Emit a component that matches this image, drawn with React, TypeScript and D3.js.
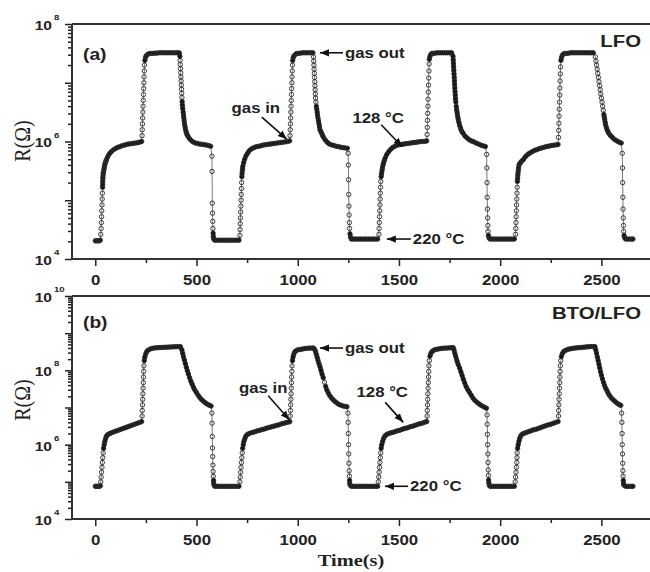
import React, { useEffect, useRef } from "react";
import * as d3 from "d3";

type Pt = [number, number];

// [time (s), log10 R (ohm)], panel (a) LFO
const lfoCycle1: Pt[] = [
  [0, 4.31], [5, 4.31], [10, 4.31], [15, 4.31], [20, 4.31], [25, 4.32],
  [27, 4.42], [29, 4.52], [30, 4.62], [31, 4.72], [32, 4.82], [33, 4.92], [34, 5.02], [35, 5.12], [36, 5.22],
  [36.5, 5.27], [37, 5.32], [37.5, 5.37], [38, 5.41], [39, 5.45],
  [40, 5.47], [41.5, 5.5], [43, 5.53], [44.5, 5.56], [46, 5.59], [48, 5.62], [50, 5.64], [52.5, 5.665], [55, 5.69], [60, 5.73],
  [66, 5.77], [72, 5.8], [80, 5.83], [90, 5.86], [100, 5.88],
  [110, 5.9], [120, 5.91], [130, 5.925], [140, 5.935], [150, 5.945], [160, 5.955], [170, 5.96], [180, 5.965], [190, 5.97], [200, 5.975],
  [210, 5.98], [220, 5.99], [229, 6.0],
  [231, 6.1], [232, 6.2], [233, 6.3], [234, 6.4], [235, 6.5], [236, 6.6], [237, 6.7], [238, 6.8], [239, 6.9], [240, 7.0], [241, 7.1],
  [242, 7.2], [243, 7.3], [245, 7.38],
  [248, 7.43], [252, 7.46], [258, 7.48], [265, 7.495], [275, 7.5], [285, 7.5], [295, 7.505], [305, 7.505], [315, 7.51], [325, 7.51],
  [335, 7.51], [345, 7.51], [355, 7.51], [365, 7.51], [375, 7.51], [385, 7.51], [395, 7.51], [405, 7.51], [415, 7.51],
  [418, 7.45], [419, 7.38], [420, 7.31], [421, 7.24], [422, 7.17], [423, 7.1], [424, 7.03], [425, 6.96], [426, 6.89], [427, 6.82],
  [428, 6.75], [429, 6.68], [430, 6.62], [432, 6.56],
  [434, 6.5], [436, 6.45], [437.5, 6.4], [439, 6.35], [441, 6.3], [443, 6.26], [445, 6.22], [447.5, 6.18], [450, 6.15], [453, 6.12],
  [456, 6.1], [463, 6.06], [470, 6.03], [480, 6.0], [490, 5.98],
  [500, 5.97], [510, 5.96], [520, 5.955], [530, 5.95], [540, 5.945], [550, 5.94], [560, 5.93], [570, 5.92],
  [576, 5.75], [577, 5.49], [578, 4.95], [579, 4.78], [580, 4.64], [581, 4.52], [582, 4.44], [583, 4.38], [585, 4.34],
  [590, 4.32], [600, 4.32], [610, 4.32], [620, 4.32], [630, 4.32], [640, 4.32], [650, 4.32], [660, 4.32], [670, 4.32],
  [680, 4.32], [690, 4.32], [700, 4.32], [710, 4.32],
];

const lfoCycle2: Pt[] = [
  [714, 4.4], [715, 4.5], [716, 4.6], [717, 4.7], [718, 4.8], [719, 4.9], [720, 5.0], [721, 5.1], [722, 5.2], [723, 5.3], [724, 5.4],
  [725, 5.45], [726, 5.5], [727.5, 5.54], [729, 5.58], [733, 5.64], [738, 5.7], [745, 5.76], [752, 5.8], [760, 5.84], [770, 5.87],
  [780, 5.89], [790, 5.905], [800, 5.915],
  [810, 5.92], [820, 5.93], [830, 5.94], [840, 5.945], [850, 5.95], [860, 5.955], [870, 5.96], [880, 5.965], [890, 5.97], [900, 5.975],
  [910, 5.98], [920, 5.985], [930, 5.99], [940, 5.995], [950, 6.0], [960, 6.01],
  [962, 6.1], [963, 6.2], [964, 6.3], [965, 6.4], [966, 6.5], [967, 6.6], [968, 6.7], [969, 6.8], [970, 6.9], [971, 7.0], [972, 7.1],
  [973, 7.2], [974, 7.3], [975, 7.38],
  [978, 7.43], [982, 7.46], [988, 7.48], [995, 7.5], [1005, 7.5], [1015, 7.505], [1025, 7.51], [1035, 7.51], [1045, 7.51], [1055, 7.51],
  [1065, 7.51], [1075, 7.51],
  [1078, 7.44], [1079, 7.37], [1080, 7.3], [1081, 7.23], [1082, 7.16], [1083, 7.09], [1084, 7.02], [1085, 6.95], [1086, 6.88],
  [1087, 6.81], [1088, 6.74], [1090, 6.67], [1092, 6.6],
  [1094, 6.55], [1096, 6.5], [1098, 6.45], [1100, 6.4], [1102.5, 6.35], [1105, 6.3], [1107.5, 6.25], [1110, 6.2], [1114, 6.17],
  [1118, 6.14], [1122, 6.11], [1126, 6.08], [1135, 6.03], [1145, 5.99], [1155, 5.96],
  [1165, 5.945], [1175, 5.935], [1185, 5.925], [1195, 5.915], [1205, 5.91], [1215, 5.9], [1225, 5.895], [1235, 5.89], [1245, 5.885],
  [1249, 5.8], [1250, 5.6], [1251, 5.35], [1252, 5.1], [1253, 4.9], [1254, 4.75], [1255, 4.62], [1256, 4.52], [1258, 4.43], [1261, 4.37],
  [1265, 4.34], [1275, 4.34], [1285, 4.34], [1295, 4.34], [1305, 4.34], [1315, 4.34], [1325, 4.34], [1335, 4.34], [1345, 4.34],
  [1355, 4.34], [1365, 4.34], [1375, 4.34], [1385, 4.34], [1395, 4.34],
];

const lfoCycle3: Pt[] = [
  [1401, 4.42], [1402, 4.52], [1403, 4.62], [1404, 4.72], [1405, 4.82], [1406, 4.92], [1407, 5.02], [1408, 5.12], [1409, 5.22],
  [1410, 5.32], [1412, 5.4],
  [1414, 5.45], [1416, 5.5], [1418, 5.54], [1420, 5.58], [1422.5, 5.615], [1425, 5.65], [1428.5, 5.685], [1432, 5.72], [1440, 5.78],
  [1450, 5.83], [1460, 5.87], [1470, 5.9], [1480, 5.92],
  [1490, 5.935], [1500, 5.945], [1510, 5.95], [1520, 5.955], [1530, 5.96], [1540, 5.965], [1550, 5.97], [1560, 5.975], [1570, 5.98],
  [1580, 5.985], [1590, 5.99], [1600, 5.995], [1610, 6.0], [1620, 6.0], [1630, 6.005], [1637, 6.01],
  [1639, 6.12], [1640, 6.24], [1641, 6.36], [1642, 6.48], [1643, 6.6], [1644, 6.72], [1645, 6.84], [1646, 6.96], [1647, 7.08],
  [1648, 7.2], [1649, 7.32], [1650, 7.4],
  [1653, 7.45], [1657, 7.48], [1663, 7.5], [1670, 7.5], [1680, 7.505], [1690, 7.51], [1700, 7.51], [1710, 7.51], [1720, 7.51],
  [1730, 7.51], [1740, 7.51], [1750, 7.51], [1760, 7.51],
  [1767, 7.45], [1768, 7.39], [1769, 7.33], [1770, 7.27], [1771, 7.21], [1772, 7.15], [1773, 7.09], [1774, 7.03], [1775, 6.97],
  [1776, 6.91], [1777, 6.85], [1778, 6.79], [1779, 6.73], [1781, 6.67], [1783, 6.6], [1785, 6.54],
  [1787, 6.5], [1789, 6.45], [1791, 6.41], [1793, 6.37], [1796.5, 6.32], [1800, 6.27], [1804, 6.23], [1808, 6.19], [1812.5, 6.16],
  [1817, 6.14], [1827, 6.09], [1837, 6.06], [1847, 6.03], [1857, 6.01],
  [1867, 6.0], [1877, 5.98], [1887, 5.965], [1897, 5.95], [1907, 5.935], [1917, 5.925], [1927, 5.915],
  [1933, 5.78], [1934, 5.55], [1935, 5.3], [1936, 5.05], [1937, 4.85], [1938, 4.7], [1939, 4.57], [1940, 4.47], [1942, 4.4], [1945, 4.36],
  [1950, 4.34], [1960, 4.34], [1970, 4.34], [1980, 4.34], [1990, 4.34], [2000, 4.34], [2010, 4.34], [2020, 4.34], [2030, 4.34],
  [2040, 4.34], [2050, 4.34], [2060, 4.34], [2070, 4.34],
];

const lfoCycle4: Pt[] = [
  [2076, 4.42], [2077, 4.52], [2078, 4.62], [2079, 4.72], [2080, 4.82], [2081, 4.92], [2082, 5.02], [2083, 5.12], [2084, 5.22],
  [2085, 5.32], [2086, 5.37], [2087, 5.42], [2088, 5.46], [2089, 5.5], [2091, 5.55], [2093, 5.6], [2096.5, 5.62],
  [2100, 5.64], [2107, 5.67], [2114, 5.69], [2122, 5.73], [2130, 5.76], [2140, 5.79], [2150, 5.81], [2160, 5.83],
  [2170, 5.85], [2180, 5.86], [2190, 5.875], [2200, 5.885], [2210, 5.895], [2220, 5.905], [2230, 5.915], [2240, 5.92], [2250, 5.93],
  [2260, 5.935], [2270, 5.94], [2280, 5.945], [2286, 5.95],
  [2288, 6.07], [2289, 6.19], [2290, 6.31], [2291, 6.43], [2292, 6.55], [2293, 6.67], [2294, 6.79], [2295, 6.91], [2296, 7.03],
  [2297, 7.15], [2298, 7.27], [2300, 7.38],
  [2303, 7.43], [2307, 7.47], [2313, 7.49], [2320, 7.5], [2330, 7.5], [2340, 7.505], [2350, 7.51], [2360, 7.51], [2370, 7.51],
  [2380, 7.51], [2390, 7.51], [2400, 7.51], [2410, 7.51], [2420, 7.51], [2430, 7.51], [2440, 7.51], [2450, 7.51], [2460, 7.51],
  [2470, 7.44], [2473, 7.37], [2476, 7.3], [2479, 7.23], [2482, 7.16], [2485, 7.09], [2488, 7.02], [2491, 6.95], [2494, 6.88],
  [2497, 6.81], [2500, 6.74], [2503, 6.67], [2506, 6.6], [2509, 6.53], [2512, 6.46],
  [2514, 6.42], [2516, 6.38], [2518.5, 6.33], [2521, 6.28], [2524.5, 6.24], [2528, 6.2], [2532, 6.17], [2536, 6.14], [2545, 6.1],
  [2554, 6.07], [2563, 6.04], [2572, 6.02], [2581, 6.0], [2590, 5.985], [2598, 5.975],
  [2603, 5.8], [2604, 5.55], [2605, 5.3], [2606, 5.05], [2607, 4.85], [2608, 4.7], [2609, 4.57], [2610, 4.47], [2612, 4.4], [2615, 4.36],
  [2620, 4.34], [2630, 4.34], [2640, 4.34], [2650, 4.34], [2656, 4.34],
];

// [time (s), log10 R (ohm)], panel (b) BTO/LFO
const btoCycle1: Pt[] = [
  [0, 4.88], [5, 4.88], [10, 4.88], [15, 4.88], [20, 4.88], [25, 4.89],
  [27, 5.0], [29, 5.13], [31, 5.26], [33, 5.39], [35, 5.52], [37, 5.65], [39, 5.78], [41, 5.9],
  [44, 6.0], [47, 6.08], [50, 6.15], [54, 6.21], [58, 6.25], [64, 6.28], [72, 6.3], [80, 6.32], [90, 6.34], [100, 6.36], [110, 6.38],
  [120, 6.4], [130, 6.42], [140, 6.44], [150, 6.46], [160, 6.48], [170, 6.5], [180, 6.52], [190, 6.54], [200, 6.56], [210, 6.58],
  [220, 6.6], [229, 6.62],
  [231, 6.77], [232, 6.92], [233, 7.07], [234, 7.22], [235, 7.37], [236, 7.52], [237, 7.67], [238, 7.82], [239, 7.97], [240, 8.12], [242, 8.26],
  [245, 8.36], [249, 8.44], [254, 8.5], [260, 8.54], [270, 8.57], [280, 8.59], [290, 8.6], [300, 8.605], [310, 8.61], [320, 8.613],
  [330, 8.616], [340, 8.62], [350, 8.622], [360, 8.625], [370, 8.628], [380, 8.63], [390, 8.633], [400, 8.636], [410, 8.638], [420, 8.64],
  [428, 8.55], [432, 8.45], [436, 8.36], [440, 8.28], [445, 8.18], [450, 8.08], [455, 7.99], [460, 7.9], [466, 7.8], [472, 7.71],
  [478, 7.63], [485, 7.54], [492, 7.47], [500, 7.4], [508, 7.33], [516, 7.27], [524, 7.22], [532, 7.18], [540, 7.14], [548, 7.11],
  [556, 7.08], [564, 7.06], [572, 7.04],
  [576, 6.85], [577, 6.58], [578, 6.22], [579, 5.91], [580, 5.68], [581, 5.45], [582, 5.28], [583, 5.15], [584, 5.04], [585, 4.96], [587, 4.91],
  [590, 4.88], [600, 4.88], [610, 4.88], [620, 4.88], [630, 4.88], [640, 4.88], [650, 4.88], [660, 4.88], [670, 4.88],
  [680, 4.88], [690, 4.88], [700, 4.88], [710, 4.88],
];

const btoCycle2: Pt[] = [
  [714, 5.0], [716, 5.13], [718, 5.26], [720, 5.39], [722, 5.52], [724, 5.65], [726, 5.78], [728, 5.9],
  [731, 6.0], [734, 6.08], [738, 6.15], [742, 6.21], [748, 6.26], [756, 6.29], [765, 6.31], [775, 6.33], [785, 6.34], [795, 6.36],
  [805, 6.38], [815, 6.39], [825, 6.41], [835, 6.42], [845, 6.44], [855, 6.46], [865, 6.47], [875, 6.49], [885, 6.5], [895, 6.52],
  [905, 6.53], [915, 6.55], [925, 6.57], [935, 6.58], [945, 6.6], [955, 6.61], [961, 6.62],
  [963, 6.77], [964, 6.92], [965, 7.07], [966, 7.22], [967, 7.37], [968, 7.52], [969, 7.67], [970, 7.82], [971, 7.97], [972, 8.12], [974, 8.26],
  [977, 8.36], [981, 8.44], [986, 8.5], [992, 8.53], [1000, 8.55], [1010, 8.56], [1020, 8.57], [1030, 8.58], [1040, 8.59],
  [1050, 8.595], [1060, 8.6], [1070, 8.6], [1078, 8.6],
  [1084, 8.56], [1088, 8.5], [1092, 8.43], [1096, 8.35], [1100, 8.27], [1105, 8.18], [1110, 8.1], [1115, 8.0], [1120, 7.9],
  [1126, 7.8], [1132, 7.68], [1138, 7.57], [1144, 7.47], [1151, 7.39], [1158, 7.32], [1166, 7.26], [1175, 7.21], [1184, 7.16],
  [1194, 7.12], [1204, 7.08], [1214, 7.06], [1224, 7.04], [1234, 7.03], [1243, 7.02],
  [1248, 6.85], [1249, 6.6], [1250, 6.3], [1251, 6.0], [1252, 5.75], [1253, 5.5], [1254, 5.3], [1255, 5.15], [1256, 5.04], [1257, 4.96], [1259, 4.91],
  [1265, 4.88], [1275, 4.88], [1285, 4.88], [1295, 4.88], [1305, 4.88], [1315, 4.88], [1325, 4.88], [1335, 4.88], [1345, 4.88],
  [1355, 4.88], [1365, 4.88], [1375, 4.88], [1385, 4.88], [1395, 4.88],
];

const btoCycle3: Pt[] = [
  [1398, 5.0], [1400, 5.13], [1402, 5.26], [1404, 5.39], [1406, 5.52], [1408, 5.65], [1410, 5.78], [1412, 5.9],
  [1415, 6.0], [1419, 6.08], [1423, 6.15], [1428, 6.21], [1434, 6.25], [1441, 6.28], [1450, 6.3], [1460, 6.32], [1470, 6.33],
  [1480, 6.35], [1490, 6.37], [1500, 6.38], [1510, 6.4], [1520, 6.42], [1530, 6.44], [1540, 6.45], [1550, 6.47], [1560, 6.49],
  [1570, 6.5], [1580, 6.52], [1590, 6.54], [1600, 6.56], [1610, 6.57], [1620, 6.59], [1630, 6.61], [1637, 6.62],
  [1639, 6.77], [1640, 6.92], [1641, 7.07], [1642, 7.22], [1643, 7.37], [1644, 7.52], [1645, 7.67], [1646, 7.82], [1647, 7.97],
  [1648, 8.12], [1650, 8.26],
  [1653, 8.38], [1658, 8.46], [1664, 8.51], [1672, 8.54], [1680, 8.56], [1690, 8.57], [1700, 8.58], [1710, 8.59], [1720, 8.595],
  [1730, 8.6], [1740, 8.6], [1750, 8.605], [1760, 8.61], [1768, 8.61],
  [1772, 8.55], [1776, 8.46], [1780, 8.38], [1784, 8.3], [1788, 8.23], [1793, 8.15], [1800, 8.06], [1806, 7.96], [1812, 7.86],
  [1818, 7.76], [1825, 7.66], [1832, 7.56], [1840, 7.48], [1848, 7.41], [1857, 7.33], [1866, 7.25], [1875, 7.19], [1885, 7.14],
  [1895, 7.1], [1905, 7.06], [1915, 7.03], [1925, 7.0], [1932, 6.98],
  [1935, 6.8], [1936, 6.55], [1937, 6.28], [1938, 6.0], [1939, 5.75], [1940, 5.52], [1941, 5.32], [1942, 5.17], [1943, 5.05], [1944, 4.97], [1946, 4.91],
  [1950, 4.88], [1960, 4.88], [1970, 4.88], [1980, 4.88], [1990, 4.88], [2000, 4.88], [2010, 4.88], [2020, 4.88], [2030, 4.88],
  [2040, 4.88], [2050, 4.88], [2060, 4.88], [2070, 4.88],
];

const btoCycle4: Pt[] = [
  [2074, 5.0], [2076, 5.13], [2078, 5.26], [2080, 5.39], [2082, 5.52], [2083, 5.65], [2084, 5.78], [2086, 5.9],
  [2089, 6.0], [2093, 6.1], [2097, 6.18], [2102, 6.24], [2108, 6.28], [2115, 6.3], [2125, 6.32], [2135, 6.34], [2145, 6.36],
  [2155, 6.38], [2165, 6.4], [2175, 6.41], [2185, 6.43], [2195, 6.45], [2205, 6.47], [2215, 6.49], [2225, 6.51], [2235, 6.53],
  [2245, 6.54], [2255, 6.56], [2265, 6.58], [2275, 6.6], [2286, 6.62],
  [2288, 6.77], [2289, 6.92], [2290, 7.07], [2291, 7.22], [2292, 7.37], [2293, 7.52], [2294, 7.67], [2295, 7.82], [2296, 7.97],
  [2297, 8.12], [2299, 8.26],
  [2302, 8.37], [2307, 8.45], [2313, 8.5], [2320, 8.53], [2328, 8.55], [2338, 8.57], [2348, 8.58], [2358, 8.59], [2368, 8.6],
  [2378, 8.605], [2388, 8.61], [2398, 8.615], [2408, 8.62], [2418, 8.625], [2428, 8.63], [2438, 8.635], [2448, 8.64], [2458, 8.64], [2468, 8.64],
  [2472, 8.55], [2476, 8.46], [2480, 8.36], [2484, 8.26], [2488, 8.16], [2492, 8.06], [2496, 7.96], [2500, 7.87], [2505, 7.77],
  [2510, 7.68], [2515, 7.6], [2520, 7.53], [2525, 7.48], [2531, 7.41], [2537, 7.35], [2543, 7.3], [2550, 7.25], [2558, 7.21],
  [2566, 7.17], [2574, 7.13], [2582, 7.1], [2590, 7.07], [2596, 7.06],
  [2600, 6.85], [2601, 6.6], [2602, 6.3], [2603, 6.0], [2604, 5.75], [2605, 5.5], [2606, 5.3], [2607, 5.15], [2608, 5.04], [2609, 4.96], [2611, 4.91],
  [2620, 4.88], [2630, 4.88], [2640, 4.88], [2650, 4.88], [2656, 4.88],
];

const xTicks = [0, 500, 1000, 1500, 2000, 2500];
const xMinorTicks = [250, 750, 1250, 1750, 2250];
const lfoExpLabels = [4, 6, 8];
const btoExpLabels = [4, 6, 8, 10];

// arrow tips in data units [time, log10 R]
const lfoNotes = [
  { text: "gas out", at: [1110, 7.51], tail: [23, 0], label: [25, 0], anchor: "start" },
  { text: "gas in", at: [946, 6.04], tail: [-25, -22], label: [-31, -31], anchor: "middle" },
  { text: "128 °C", at: [1516, 5.91], tail: [-21, -22], label: [-24, -29], anchor: "middle" },
  { text: "220 °C", at: [1440, 4.34], tail: [24, 0], label: [26, 0], anchor: "start" },
];
const btoNotes = [
  { text: "gas out", at: [1110, 8.6], tail: [23, 0], label: [25, 0], anchor: "start" },
  { text: "gas in", at: [958, 6.67], tail: [-21, -24], label: [-26, -32], anchor: "middle" },
  { text: "128 °C", at: [1521, 6.6], tail: [-18, -20], label: [-21, -30], anchor: "middle" },
  { text: "220 °C", at: [1431, 4.88], tail: [23, 0], label: [25, 0], anchor: "start" },
];

const W = 650;
const H = 572;
const SX = 1.2; // the figure's lettering is a bit wide
const SANS = "'Liberation Sans', Arial, sans-serif";
const SERIF = "'Liberation Serif', 'Times New Roman', serif";

const panels = [
  { cycles: [lfoCycle1, lfoCycle2, lfoCycle3, lfoCycle4], top: 24, bottom: 259, maxExp: 8, labels: lfoExpLabels,
    tag: "(a)", tagY: 54, name: "LFO", notes: lfoNotes, yTitle: 141 },
  { cycles: [btoCycle1, btoCycle2, btoCycle3, btoCycle4], top: 296, bottom: 519, maxExp: 10, labels: btoExpLabels,
    tag: "(b)", tagY: 322, name: "BTO/LFO", notes: btoNotes, yTitle: 400 },
];

export default function App() {
  const ref = useRef<SVGSVGElement>(null);

  useEffect(() => {
    const svg = d3.select(ref.current);
    svg.selectAll("*").remove();

    svg.append("defs").append("marker")
      .attr("id", "arrow").attr("viewBox", "0 0 10 10")
      .attr("refX", 10).attr("refY", 5)
      .attr("markerWidth", 9).attr("markerHeight", 9)
      .attr("markerUnits", "userSpaceOnUse").attr("orient", "auto")
      .append("path").attr("d", "M0,1 L10,5 L0,9 Z").attr("fill", "#111");

    svg.append("rect").attr("width", W).attr("height", H).attr("fill", "#fff");

    const left = 72;
    const x = d3.scaleLinear().domain([-115, 2740]).range([left, W]);

    panels.forEach((p) => {
      const y = d3.scaleLog().domain([1e4, 10 ** p.maxExp]).range([p.bottom, p.top]);
      const g = svg.append("g");

      // y axis: decade ticks + minor ticks
      const minor: number[] = [];
      for (let e = 4; e < p.maxExp; e++) for (let k = 2; k <= 9; k++) minor.push(k * 10 ** e);
      const majors = d3.range(4, p.maxExp + 1).map((e) => 10 ** e);

      g.append("g").attr("transform", `translate(${left},0)`)
        .call(d3.axisLeft(y).tickValues(minor).tickSize(4).tickFormat(() => ""));
      g.append("g").attr("transform", `translate(${left},0)`)
        .call(d3.axisLeft(y).tickValues(majors).tickSize(7).tickFormat(() => ""));

      // x axis
      const xa = g.append("g").attr("transform", `translate(0,${p.bottom})`)
        .call(d3.axisBottom(x).tickValues(xTicks).tickSize(7).tickPadding(9).tickFormat(d3.format("d")));
      g.append("g").attr("transform", `translate(0,${p.bottom})`)
        .call(d3.axisBottom(x).tickValues(xMinorTicks).tickSize(4).tickFormat(() => ""));

      g.selectAll(".domain").remove();
      g.selectAll(".tick line").attr("stroke", "#222").attr("stroke-width", 1.5);
      xa.selectAll("text")
        .attr("transform", `scale(${SX},1)`)
        .attr("font-family", SANS).attr("font-weight", "bold").attr("font-size", 14).attr("fill", "#222");

      // frame
      const frame = g.append("g").attr("stroke", "#333").attr("stroke-width", 2).attr("fill", "none");
      frame.append("line").attr("x1", left).attr("x2", W).attr("y1", p.top).attr("y2", p.top);
      frame.append("line").attr("x1", left).attr("x2", W).attr("y1", p.bottom).attr("y2", p.bottom);
      frame.append("line").attr("x1", left).attr("x2", left).attr("y1", p.top).attr("y2", p.bottom);

      // decade labels 10^n
      p.labels.forEach((e) => {
        const ty = y(10 ** e);
        g.append("text")
          .attr("transform", `translate(${left - 20},${ty}) scale(${SX},1)`)
          .attr("dy", "0.45em").attr("text-anchor", "end")
          .attr("font-family", SANS).attr("font-weight", "bold").attr("font-size", 13).attr("fill", "#222")
          .text("10");
        g.append("text")
          .attr("transform", `translate(${left - 18},${ty - 4}) scale(${SX},1)`)
          .attr("text-anchor", "start")
          .attr("font-family", SANS).attr("font-weight", "bold").attr("font-size", 8).attr("fill", "#222")
          .text(String(e));
      });

      // y title
      g.append("text")
        .attr("transform", `translate(22,${p.yTitle}) scale(${SX},1) rotate(-90)`)
        .attr("text-anchor", "middle").attr("dy", "0.35em")
        .attr("font-family", SERIF).attr("font-size", 20).attr("fill", "#222")
        .text("R(Ω)");

      // series: where markers crowd together they merge into a solid band
      const pts = p.cycles.flat();
      const px = pts.map((d) => [x(d[0]), y(10 ** d[1])] as [number, number]);
      const runs: [number, number][][] = [];
      let run: [number, number][] = [px[0]];
      for (let i = 1; i < px.length; i++) {
        const dist = Math.hypot(px[i][0] - px[i - 1][0], px[i][1] - px[i - 1][1]);
        if (dist < 4) run.push(px[i]);
        else {
          if (run.length > 1) runs.push(run);
          run = [px[i]];
        }
      }
      if (run.length > 1) runs.push(run);

      const line = d3.line<Pt>().x((d) => x(d[0])).y((d) => y(10 ** d[1]));
      g.append("path").attr("d", line(pts)).attr("fill", "none").attr("stroke", "#555").attr("stroke-width", 0.8);
      const band = d3.line<[number, number]>();
      g.append("g").selectAll("path").data(runs).join("path")
        .attr("d", (r) => band(r)).attr("fill", "none").attr("stroke", "#111")
        .attr("stroke-width", 4.2).attr("stroke-linecap", "round").attr("stroke-linejoin", "round");
      g.append("g").selectAll("circle").data(pts).join("circle")
        .attr("cx", (d) => x(d[0])).attr("cy", (d) => y(10 ** d[1]))
        .attr("r", 2.2).attr("fill", "none").attr("stroke", "#2a2a2a").attr("stroke-width", 0.9);

      // panel tag and sample name
      g.append("text")
        .attr("transform", `translate(83,${p.tagY}) scale(${SX},1)`)
        .attr("dy", "0.35em").attr("font-family", SANS).attr("font-weight", "bold").attr("font-size", 16).attr("fill", "#222")
        .text(p.tag);
      g.append("text")
        .attr("transform", `translate(641,${p.top + 17}) scale(${SX},1)`)
        .attr("dy", "0.35em").attr("text-anchor", "end")
        .attr("font-family", SANS).attr("font-weight", "bold").attr("font-size", 17).attr("fill", "#222")
        .text(p.name);

      // annotations
      p.notes.forEach((n) => {
        const tx = x(n.at[0]);
        const ty = y(10 ** n.at[1]);
        g.append("line")
          .attr("x1", tx + n.tail[0]).attr("y1", ty + n.tail[1]).attr("x2", tx).attr("y2", ty)
          .attr("stroke", "#111").attr("stroke-width", 1.6).attr("marker-end", "url(#arrow)");
        g.append("text")
          .attr("transform", `translate(${tx + n.label[0]},${ty + n.label[1]}) scale(${SX},1)`)
          .attr("dy", "0.35em").attr("text-anchor", n.anchor)
          .attr("font-family", SANS).attr("font-weight", "bold").attr("font-size", 14).attr("fill", "#222")
          .text(n.text);
      });
    });

    svg.append("text")
      .attr("transform", `translate(351,566) scale(${SX},1)`)
      .attr("text-anchor", "middle")
      .attr("font-family", SERIF).attr("font-weight", "bold").attr("font-size", 17).attr("fill", "#222")
      .text("Time(s)");
  }, []);

  return (
    <svg ref={ref} width={W} height={H} style={{ position: "absolute", left: 0, top: 0, display: "block" }} />
  );
}
